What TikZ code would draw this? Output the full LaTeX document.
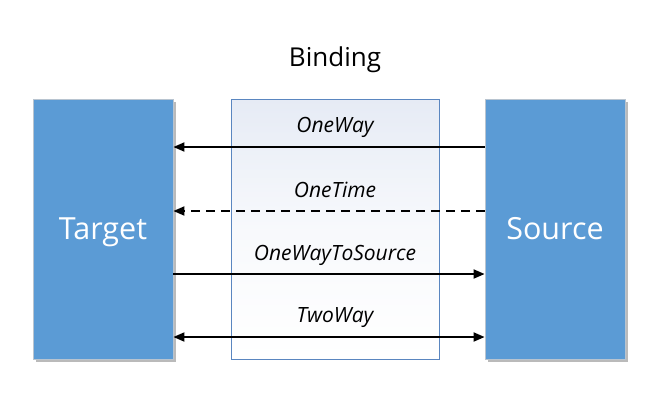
\documentclass[tikz,border=0pt]{standalone}
\usepackage{fontspec}
\setmainfont{Open Sans}
\usetikzlibrary{arrows.meta,shadows}
\definecolor{boxblue}{HTML}{5B9BD5}
\definecolor{boxedge}{HTML}{B8C4D0}
\definecolor{midedge}{HTML}{5A86C0}
\definecolor{midtop}{HTML}{E6EBF5}
\begin{document}
\begin{tikzpicture}[x=1pt,y=-1pt,
  bigbox/.style={draw=boxedge,line width=0.8pt,fill=boxblue,minimum width=140pt,minimum height=260pt,
    text=white,font=\fontsize{30.5}{34}\selectfont,inner sep=0pt,text height=24pt,text depth=4pt,
    drop shadow={shadow xshift=3pt,shadow yshift=-3pt,fill=black!45,opacity=0.6}},
  midbox/.style={draw=midedge,line width=0.7pt,top color=midtop,bottom color=white,middle color=white!70!midtop,
    minimum width=208pt,minimum height=260pt,inner sep=0pt},
  lbl/.style={font=\fontsize{21}{24}\selectfont\itshape,inner sep=0pt},
  conn/.style={line width=1.8pt,-{Triangle[length=11pt,width=9pt]}},
  both/.style={line width=1.8pt,{Triangle[length=11pt,width=9pt]}-{Triangle[length=11pt,width=9pt]}}]
\useasboundingbox (0,0) rectangle (671,400);
\node[midbox] (mid) at (335,229) {};
\node[bigbox] (tgt) at (103,229) {Target};
\node[bigbox] (src) at (555,229) {Source};
\node[font=\fontsize{26}{30}\selectfont,inner sep=0pt] (bind) at (335,60) {Binding};
\coordinate (s1) at (src.west |- 0,147);
\coordinate (t1) at (tgt.east |- 0,147);
\coordinate (s2) at (src.west |- 0,211);
\coordinate (t2) at (tgt.east |- 0,211);
\coordinate (s3) at (src.west |- 0,274);
\coordinate (t3) at (tgt.east |- 0,274);
\coordinate (s4) at (src.west |- 0,337);
\coordinate (t4) at (tgt.east |- 0,337);
\draw[conn] (s1) -- (t1);
\draw[conn,dash pattern=on 9pt off 6pt] (s2) -- (t2);
\draw[conn] (t3) -- (s3);
\draw[both] (t4) -- (s4);
\node[lbl] (l1) at (335,127) {OneWay};
\node[lbl] (l2) at (335,190) {OneTime};
\node[lbl] (l3) at (335,255) {OneWayToSource};
\node[lbl] (l4) at (335,318) {TwoWay};
\end{tikzpicture}
\end{document}
